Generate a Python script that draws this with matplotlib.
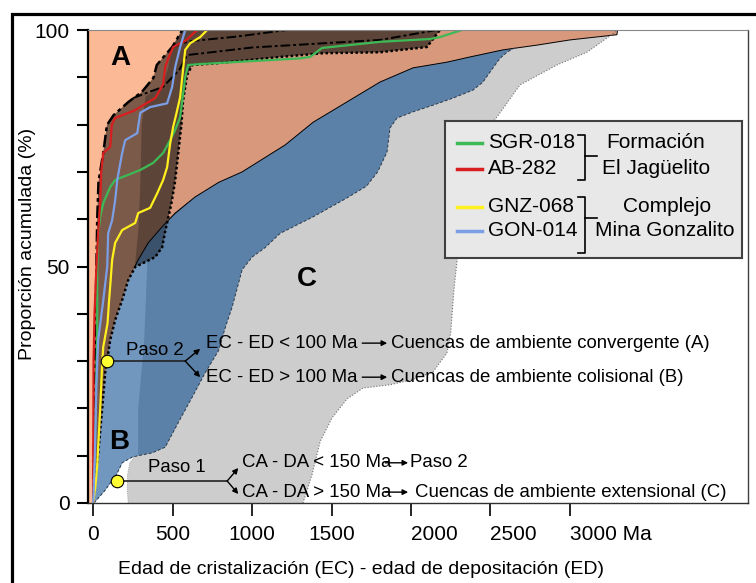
import matplotlib
matplotlib.use('Agg')
import matplotlib.pyplot as plt
from matplotlib.patches import Rectangle

plt.rcParams['font.family'] = 'Liberation Sans'

# ---- data: EC - ED (Ma) vs cumulative proportion (%) ----
sgr018_x = [0, 10, 18, 25, 25, 31, 44, 63, 107, 138, 214, 296, 377, 440, 484, 516, 547,
            579, 597, 673, 1302, 1365, 1440, 1805, 2120, 2182, 2321]
sgr018_y = [0, 10, 25, 34.5, 50, 57, 60.5, 63.4, 66.8, 68.3, 69.3, 70.4, 71.9, 74, 76.7,
            78.9, 81.6, 90, 92.6, 92.8, 94, 94.3, 96.2, 97.5, 98.1, 98.5, 100]

ab282_x = [0, 0, 2, 8, 20, 31, 44, 50, 63, 107, 117, 138, 260, 390, 440, 453, 472, 503, 579, 654]
ab282_y = [0, 10, 30, 40, 50, 57, 64, 70, 74, 75.3, 80, 81.4, 83, 85.6, 88.5, 92.2, 94, 96.4, 97.7, 100]

gnz068_x = [0, 15, 25, 44, 57, 63, 90, 100, 107, 119, 138, 182, 220, 264, 283, 358, 403, 440,
            465, 484, 503, 528, 547, 560, 579, 610, 673, 717]
gnz068_y = [0, 4, 8, 20, 30, 33, 38, 43, 46, 51.4, 55, 57.7, 58.4, 59.2, 61.3, 62.4, 65.5, 68.3,
            71, 76, 79.5, 83, 85.8, 90, 95.8, 97.2, 98.5, 100]

gon014_x = [0, 10, 20, 31, 60, 88, 94, 119, 138, 151, 182, 201, 277, 296, 358, 465, 497, 516, 547, 579]
gon014_y = [0, 10, 25, 34.5, 42, 50, 57, 59.8, 64, 68.3, 74, 76.7, 78.2, 82.5, 83.7, 84.5, 88, 92.2, 96.4, 100]

samples = [('SGR-018', sgr018_x, sgr018_y, '#3dba55'),
           ('AB-282', ab282_x, ab282_y, '#d81e1e'),
           ('GNZ-068', gnz068_x, gnz068_y, '#fff01e'),
           ('GON-014', gon014_x, gon014_y, '#7b9fe6')]

x_ticks = [0, 500, 1000, 1500, 2000, 2500, 3000]
x_ticklabels = ['0', '500', '1000', '1500', '2000', '2500', '3000 Ma']

# envelope of the samples (brown field)
env_left = [(0, 0), (5, 15), (10, 30), (15, 40), (20, 50), (25, 60), (33, 67.9), (64, 74.2),
            (86, 79.9), (128, 82), (222, 84.8), (306, 86.9), (379, 89.9), (400, 92.6),
            (453, 94.7), (497, 96.4), (560, 100)]
env_right = [(0, 0), (13, 5), (30, 10), (57, 20.3), (75, 27.5), (88, 30.2), (107, 34.5),
             (138, 38.7), (182, 42.9), (220, 47.1), (264, 49.9), (300, 50.5), (390, 52),
             (434, 54.1), (453, 57.5), (470, 60), (490, 63), (515, 68), (535, 74), (555, 80),
             (565, 85), (591, 90.5), (623, 92.6), (786, 93), (1176, 94.3), (1447, 95.1),
             (1805, 95.3), (2100, 96.4), (2182, 100)]
env_inner1 = [(250, 85.6), (440, 88), (540, 91.5), (591, 94.7), (1000, 96.3),
              (1805, 97.9), (2163, 100)]
env_inner2 = [(497, 96.4), (600, 97.6), (900, 98.6), (1220, 100)]
env_shade = [(262, 50), (285, 58), (296, 67), (305, 80), (330, 86), (434, 88), (472, 92), (497, 96.4)]

# field A (convergent) lower edge, field B (collisional) lower edge, field C (extensional) edge
a_edge = [(3300, 100), (3296, 99), (3000, 97.9), (2792, 96.8), (2579, 95.8), (2371, 94.3),
          (2226, 93.2), (2013, 92), (1805, 89), (1597, 84.8), (1384, 80.5), (1208, 75.7),
          (937, 70), (790, 67.8), (641, 64.7), (516, 61.3), (434, 58.4), (346, 55),
          (283, 51.4), (262, 50)]
b_edge = [(5, 0), (75, 2.7), (151, 6.3), (182, 8.5), (245, 9.7), (283, 10), (371, 10.6),
          (453, 11.8), (535, 17), (623, 22.4), (704, 27.5), (790, 32.3), (830, 37), (874, 41.4),
          (937, 49.3), (1000, 52), (1082, 54), (1176, 57), (1384, 60.5), (1597, 64.5),
          (1720, 67), (1790, 70), (1849, 74.2), (1868, 79.3), (1912, 81.4), (2013, 82.7),
          (2138, 84.1), (2264, 85.6), (2390, 87.3), (2453, 89), (2516, 92), (2560, 94),
          (2604, 95.3), (2650, 96.2)]
b_split = [(283, 20), (320, 34), (340, 50), (330, 56)]
c_edge = [(1320, 0), (1377, 6), (1428, 13), (1503, 18), (1597, 22), (1698, 24.3), (1868, 25),
          (2000, 26), (2138, 27.7), (2226, 31.7), (2250, 36), (2270, 45), (2289, 51),
          (2330, 60), (2420, 72), (2528, 81), (2686, 88.4), (2918, 92.6), (3107, 95.3),
          (3296, 99.8)]
c_pocket = [(220, 0), (214, 3), (216, 6), (230, 8.5), (264, 10)]

paso1_pt = (151, 4.65)
paso2_pt = (88, 30.0)


def xs(pts):
    return [p[0] for p in pts]


def ys(pts):
    return [p[1] for p in pts]


W, H = 756, 583
fig = plt.figure(figsize=(W / 100, H / 100), dpi=100)
ax = fig.add_axes([88 / W, 1 - 503 / H, 660 / W, 473 / H])
ax.set_xlim(-33, 4121)
ax.set_ylim(0, 100)

XL = -40
# hidden paths run underneath the fields drawn later
hidden_c = [(400, 20), (700, 40), (1100, 65), (1800, 85), (2600, 97)]
hidden_b = [(2650, 97.5), (1000, 92), (300, 70), (200, 55), (60, 40), (20, 20), (0, 0)]

gray_poly = c_pocket + hidden_c + c_edge[::-1]
ax.fill(xs(gray_poly), ys(gray_poly), color='#cdcdcd', lw=0, zorder=1)

blue_poly = b_edge + hidden_b
ax.fill(xs(blue_poly), ys(blue_poly), color='#5b81a8', lw=0, zorder=2)
lblue_poly = b_edge[:6] + b_split + hidden_b[3:]
ax.fill(xs(lblue_poly), ys(lblue_poly), color='#7197bf', lw=0, zorder=2)

salmon_poly = [(XL, 0), (XL, 100)] + a_edge + [p for p in env_right[::-1] if p[1] < 49]
ax.fill(xs(salmon_poly), ys(salmon_poly), color='#d8987c', lw=0, zorder=3)

peach_poly = [(XL, 0), (XL, 100)] + env_left[::-1]
ax.fill(xs(peach_poly), ys(peach_poly), color='#fbb995', lw=0, zorder=4)

brown_poly = env_left + env_right[::-1]
ax.fill(xs(brown_poly), ys(brown_poly), color='#7b5a49', lw=0, zorder=5)
top_right = [p for p in env_right if p[1] >= 50]
dark_poly = env_shade + [(560, 100)] + top_right[::-1]
ax.fill(xs(dark_poly), ys(dark_poly), color='#5c4538', lw=0, zorder=5)
navy_poly = [(465, 59.5)] + a_edge[-6:] + [(300, 50.5), (390, 52), (434, 54.1), (453, 57.5)]
ax.fill(xs(navy_poly), ys(navy_poly), color='#3a526b', lw=0, zorder=5)

# field outlines
ax.plot(xs(a_edge), ys(a_edge), color='black', lw=0.7, zorder=6)
ax.plot(xs(b_edge), ys(b_edge), color='#2a3a4a', lw=0.7, ls=(0, (3, 2)), zorder=6)
ax.plot(xs(c_edge), ys(c_edge), color='#707070', lw=0.8, ls=':', zorder=6)
ax.plot(xs(c_pocket), ys(c_pocket), color='#909090', lw=0.6, ls=':', zorder=6)
ax.plot(xs(env_left), ys(env_left), color='black', lw=1.8, ls=(0, (5, 1.5, 1.5, 1.5)), zorder=7)
ax.plot(xs(env_right), ys(env_right), color='black', lw=1.8, ls=(0, (1, 1)), zorder=7)
ax.plot(xs(env_inner1), ys(env_inner1), color='black', lw=1.4, ls=(0, (5, 1.5, 1.5, 1.5)), zorder=7)
ax.plot(xs(env_inner2), ys(env_inner2), color='black', lw=1.4, ls=(0, (5, 1.5, 1.5, 1.5)), zorder=7)

for name, sx, sy, col in samples:
    ax.plot(sx, sy, color=col, lw=1.6, zorder=8)

# field letters
ax.text(170, 94, 'A', fontsize=20, fontweight='bold', ha='center', va='center', zorder=9)
ax.text(164, 12.9, 'B', fontsize=20, fontweight='bold', ha='center', va='center', zorder=9)
ax.text(1346, 47.4, 'C', fontsize=20, fontweight='bold', ha='center', va='center', zorder=9)

# decision steps
fs = 13.4
arw = dict(arrowstyle='-|>', color='black', lw=1.0, mutation_scale=8, shrinkA=0, shrinkB=0)

ax.plot([paso2_pt[0], 579], [paso2_pt[1], paso2_pt[1]], color='#222222', lw=1.2, zorder=9)
ax.annotate('', xy=(673, 32.6), xytext=(579, paso2_pt[1]), arrowprops=arw, zorder=9)
ax.annotate('', xy=(673, 26.6), xytext=(579, paso2_pt[1]), arrowprops=arw, zorder=9)
ax.plot(*paso2_pt, 'o', ms=9, mfc='#ffff33', mec='black', mew=0.8, zorder=10)
ax.text(566, 32.2, 'Paso 2', fontsize=fs, ha='right', va='center', zorder=9)
ax.text(711, 33.8, 'EC - ED < 100 Ma', fontsize=fs, va='center', zorder=9)
ax.text(711, 26.6, 'EC - ED > 100 Ma', fontsize=fs, va='center', zorder=9)
ax.annotate('', xy=(1850, 33.8), xytext=(1693, 33.8), arrowprops=arw, zorder=9)
ax.annotate('', xy=(1850, 26.6), xytext=(1693, 26.6), arrowprops=arw, zorder=9)
ax.text(1875, 33.8, 'Cuencas de ambiente convergente (A)', fontsize=fs, va='center', zorder=9)
ax.text(1875, 26.6, 'Cuencas de ambiente colisional (B)', fontsize=fs, va='center', zorder=9)

ax.plot([paso1_pt[0], 843], [paso1_pt[1], paso1_pt[1]], color='#222222', lw=1.2, zorder=9)
ax.annotate('', xy=(913, 7.4), xytext=(843, paso1_pt[1]), arrowprops=arw, zorder=9)
ax.annotate('', xy=(913, 1.9), xytext=(843, paso1_pt[1]), arrowprops=arw, zorder=9)
ax.plot(*paso1_pt, 'o', ms=9, mfc='#ffff33', mec='black', mew=0.8, zorder=10)
ax.text(346, 7.6, 'Paso 1', fontsize=fs, va='center', zorder=9)
ax.text(938, 8.5, 'CA - DA < 150 Ma', fontsize=fs, va='center', zorder=9)
ax.text(938, 2.3, 'CA - DA > 150 Ma', fontsize=fs, va='center', zorder=9)
ax.annotate('', xy=(1982, 8.5), xytext=(1838, 8.5), arrowprops=arw, zorder=9)
ax.annotate('', xy=(1982, 2.3), xytext=(1838, 2.3), arrowprops=arw, zorder=9)
ax.text(1995, 8.5, 'Paso 2', fontsize=fs, va='center', zorder=9)
ax.text(2026, 2.3, 'Cuencas de ambiente extensional (C)', fontsize=fs, va='center', zorder=9)

# axes styling
ax.set_yticks(range(0, 101, 10))
ax.set_yticklabels(['0', '', '', '', '', '50', '', '', '', '', '100'])
ax.set_xticks(x_ticks)
ax.set_xticklabels(x_ticklabels)
ax.tick_params(axis='y', length=8, width=1.5, labelsize=15, pad=5)
ax.tick_params(axis='x', length=9, width=1.2, labelsize=15, pad=7)
# the later labels start at their tick, as in the original panel
for lbl in ax.get_xticklabels()[4:]:
    lbl.set_horizontalalignment('left')
ax.spines['left'].set_linewidth(1.6)
ax.spines['left'].set_color('black')
ax.spines['top'].set_color('#888888')
ax.spines['top'].set_linewidth(0.8)
ax.spines['right'].set_color('#404040')
ax.spines['right'].set_linewidth(1.0)
ax.spines['bottom'].set_color('#303030')
ax.spines['bottom'].set_linewidth(1.0)
for s in ax.spines.values():
    s.set_zorder(11)

fig.text(361 / W, 1 - 570 / H, 'Edad de cristalización (EC) - edad de depositación (ED)',
         fontsize=14, ha='center', va='center')
fig.text(28 / W, 1 - 244 / H, 'Proporción acumulada (%)', fontsize=14,
         ha='center', va='center', rotation=90)

# legend box, drawn in its own pixel frame
lg = fig.add_axes([445 / W, 1 - 258 / H, 297 / W, 137 / H])
lg.set_xlim(0, 297)
lg.set_ylim(137, 0)
lg.set_facecolor('#e8e8e8')
lg.set_xticks([])
lg.set_yticks([])
for s in lg.spines.values():
    s.set_color('#404040')
    s.set_linewidth(1.5)
rows = [22, 48, 86, 110]
for (name, sx, sy, col), yy in zip(samples, rows):
    lg.plot([12, 37], [yy, yy], color=col, lw=2.5)
    lg.text(43, yy, name, fontsize=15, va='center', ha='left')
for top, bot, mid in [(14, 59, 35), (76, 132, 97)]:
    lg.plot([133, 140, 140, 133], [top, top, bot, bot], color='black', lw=1.2)
    lg.plot([140, 152], [mid, mid], color='black', lw=1.2)
lg.text(211, 22, 'Formación', fontsize=15, ha='center', va='center')
lg.text(211, 47, 'El Jagüelito', fontsize=15, ha='center', va='center')
lg.text(222, 86, 'Complejo', fontsize=15, ha='center', va='center')
lg.text(220, 110, 'Mina Gonzalito', fontsize=15, ha='center', va='center')

# outer frame of the figure panel
fig.patches.append(Rectangle((11.5 / W, -0.1), 1.2, 1.1 - 14.5 / H, transform=fig.transFigure,
                             fill=False, lw=2.3, ec='black'))

fig.savefig('out.png', dpi=100)
